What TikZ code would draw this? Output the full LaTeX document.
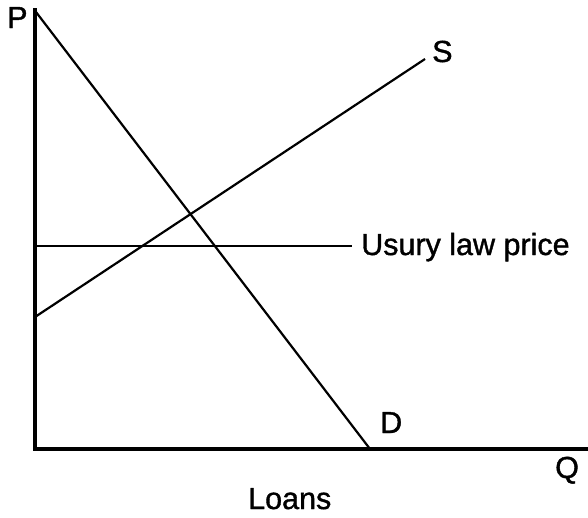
\documentclass[tikz,border=0pt]{standalone}
\usepackage{fontspec}
\setmainfont{Liberation Sans}[BoldFont=Liberation Sans, BoldFeatures={FakeBold=1.2}]
\begin{document}
\begin{tikzpicture}[x=1pt,y=-1pt,
  axis/.style={line width=3.4pt},
  curve/.style={line width=2.2pt},
  lbl/.style={inner sep=0pt,anchor=base west,font=\fontsize{30.5}{30.5}\selectfont\bfseries}]
\useasboundingbox[fill=white] (0,0) rectangle (588,517);
\coordinate (ytop) at (35,8);
\coordinate (orig) at (35,449);
\coordinate (xend) at (588,449);
\draw[axis] (ytop) -- (35,450.7);
\draw[axis] (33.3,449) -- (xend);
\coordinate (d1) at (36,12);
\coordinate (d2) at (370,449);
\draw[curve] (d1) -- (d2);
\coordinate (s1) at (35,317);
\coordinate (s2) at (425,59);
\draw[curve] (s1) -- (s2);
\coordinate (u1) at (35,246);
\coordinate (u2) at (352,246);
\draw[curve] (u1) -- (u2);
\node[lbl] (P) at (7,28) {P};
\node[lbl] (S) at (432,62) {S};
\node[lbl] (D) at (380,433) {D};
\node[lbl] (Q) at (555,478) {Q};
\node[lbl] (U) at (361,255) {Usury law price};
\node[lbl] (L) at (248,509) {Loans};
\end{tikzpicture}
\end{document}
